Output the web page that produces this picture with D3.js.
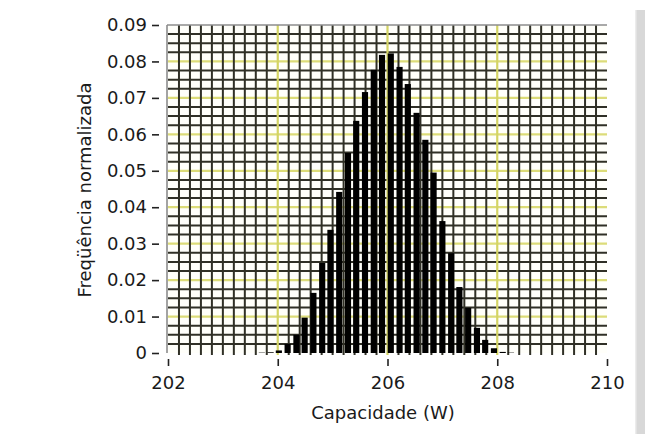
<!DOCTYPE html>
<html>
<head>
<meta charset="utf-8">
<script src="https://cdn.jsdelivr.net/npm/d3@7"></script>
<style>
  html, body { margin: 0; padding: 0; background: #ffffff; }
  svg { display: block; }
  text { font-family: "DejaVu Sans", Verdana, sans-serif; fill: #1a1a1a; }
</style>
</head>
<body>
<script>
// ---- data ----
const binCenters = [203.71, 203.87, 204.02, 204.18, 204.34, 204.49, 204.65, 204.81, 204.96, 205.12,
                    205.28, 205.43, 205.59, 205.75, 205.90, 206.06, 206.22, 206.37, 206.53, 206.69,
                    206.84, 207.00, 207.16, 207.31, 207.47, 207.63, 207.78, 207.94, 208.10, 208.25];
const frequencies = [0.0001, 0.0002, 0.0007, 0.0025, 0.0050, 0.0097, 0.0165, 0.0247, 0.0338, 0.0442,
                     0.0549, 0.0637, 0.0716, 0.0777, 0.0818, 0.0822, 0.0785, 0.0738, 0.0659, 0.0585,
                     0.0495, 0.0362, 0.0274, 0.0181, 0.0124, 0.0069, 0.0036, 0.0013, 0.0003, 0.0001];
const xTicks = [202, 204, 206, 208, 210];
const yTicks = [0, 0.01, 0.02, 0.03, 0.04, 0.05, 0.06, 0.07, 0.08, 0.09];
const xTitle = "Capacidade (W)";
const yTitle = "Freqüência normalizada";

const W = 645, H = 434;
const binWidth = 0.112;

const svg = d3.select("body").append("svg").attr("width", W).attr("height", H);

const x = d3.scaleLinear().domain([202, 210]).range([168, 607]);
const y = d3.scaleLinear().domain([0, 0.09]).range([353, 25]);

// right gray strip
svg.append("rect").attr("x", 635).attr("y", 10).attr("width", 10).attr("height", H - 10).attr("fill", "#d8d8d8");
svg.append("rect").attr("x", 635).attr("y", 10).attr("width", 1.5).attr("height", H - 10).attr("fill", "#ececec");

// plot background
svg.append("rect").attr("x", x(202)).attr("y", y(0.09)).attr("width", x(210) - x(202)).attr("height", y(0) - y(0.09)).attr("fill", "#fffffa");

// grid
const grid = svg.append("g");
const minorX = d3.range(1, 40).map(i => 202 + i * 0.2);
const minorY = d3.range(1, 36).map(i => i * 0.0025);
const isMajorX = v => Math.abs(v - Math.round(v)) < 1e-6 && Math.round(v) % 2 === 0;
const isMajorY = v => Math.abs(v * 100 - Math.round(v * 100)) < 1e-6;

grid.selectAll("line.h").data(minorY).join("line")
  .attr("x1", x(202)).attr("x2", x(210))
  .attr("y1", d => y(d)).attr("y2", d => y(d))
  .attr("stroke", d => isMajorY(d) ? "#dcdc78" : "#303026")
  .attr("stroke-width", d => isMajorY(d) ? 2.2 : 2);
grid.selectAll("line.v").data(minorX).join("line")
  .attr("y1", y(0.09)).attr("y2", y(0) + 2)
  .attr("x1", d => x(d)).attr("x2", d => x(d))
  .attr("stroke", d => isMajorX(d) ? "#d4d464" : "#303026")
  .attr("stroke-width", d => isMajorX(d) ? 2.2 : 2);

// frame: top and left
svg.append("line").attr("x1", x(202) - 1).attr("x2", x(210)).attr("y1", y(0.09)).attr("y2", y(0.09))
  .attr("stroke", "#8c8c8c").attr("stroke-width", 1.6);
svg.append("line").attr("x1", x(202) - 1).attr("x2", x(202) - 1).attr("y1", y(0.09)).attr("y2", y(0))
  .attr("stroke", "#8c8c8c").attr("stroke-width", 1.6);

// bars
svg.append("g").selectAll("rect").data(binCenters).join("rect")
  .attr("x", (d) => x(d - binWidth / 2))
  .attr("width", x(202 + binWidth) - x(202))
  .attr("y", (d, i) => y(frequencies[i]))
  .attr("height", (d, i) => y(0) - y(frequencies[i]))
  .attr("fill", "#000");

// y axis
const yAxis = d3.axisLeft(y).tickValues(yTicks).tickSize(7).tickPadding(5)
  .tickFormat(d => d === 0 ? "0" : d.toFixed(2));
const gy = svg.append("g").attr("transform", "translate(159,0)").call(yAxis);
gy.select(".domain").remove();
gy.selectAll(".tick line").attr("stroke", "#222").attr("stroke-width", 1.6);
gy.selectAll(".tick text").attr("font-size", 18).attr("font-family", "DejaVu Sans").attr("fill", "#1a1a1a");

// x axis
const xAxis = d3.axisBottom(x).tickValues(xTicks).tickSize(7).tickPadding(10)
  .tickFormat(d3.format("d"));
const gx = svg.append("g").attr("transform", "translate(0,359)").call(xAxis);
gx.select(".domain").remove();
gx.selectAll(".tick line").attr("stroke", "#222").attr("stroke-width", 1.6);
gx.selectAll(".tick text").attr("font-size", 18).attr("font-family", "DejaVu Sans").attr("fill", "#1a1a1a");

// titles
svg.append("text").attr("x", 383).attr("y", 419).attr("text-anchor", "middle")
  .attr("font-size", 18).text(xTitle);
svg.append("text").attr("transform", "translate(91,190) rotate(-90)").attr("text-anchor", "middle")
  .attr("font-size", 18).text(yTitle);
</script>
</body>
</html>
